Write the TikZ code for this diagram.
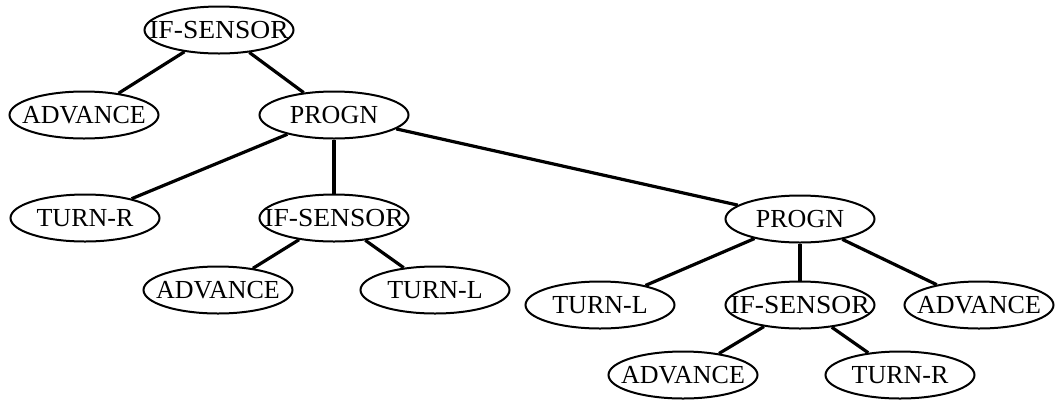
\documentclass[tikz,border=0pt]{standalone}
\usepackage{fontspec}
\usepackage{graphicx}
\setmainfont{Liberation Serif}
\usetikzlibrary{shapes.geometric}
\newcommand{\tlab}[1]{\makebox[0pt][c]{#1}}
\newcommand{\tlabw}[1]{\makebox[0pt][c]{\scalebox{1.06}[1]{#1}}}
\begin{document}
\begin{tikzpicture}[x=1pt,y=-1pt,
  tnode/.style={ellipse,draw=black,line width=2pt,minimum width=149pt,minimum height=47pt,inner sep=0pt,font=\fontsize{26}{28}\selectfont},
  tedge/.style={line width=3.2pt}]
\useasboundingbox (0,0) rectangle (1055,400);
\node[tnode] (t1) at (219,30) {\tlabw{IF-SENSOR}};
\node[tnode] (a1) at (84,115) {\tlab{ADVANCE}};
\node[tnode] (p1) at (334,115) {\tlab{PROGN}};
\node[tnode] (tr1) at (85,218) {\tlab{TURN-R}};
\node[tnode] (is2) at (334,218) {\tlabw{IF-SENSOR}};
\node[tnode] (p2) at (800,219) {\tlab{PROGN}};
\node[tnode] (a2) at (218,290) {\tlab{ADVANCE}};
\node[tnode] (tl1) at (435,290) {\tlab{TURN-L}};
\node[tnode] (tl2) at (600,305) {\tlab{TURN-L}};
\node[tnode] (is3) at (800,305) {\tlabw{IF-SENSOR}};
\node[tnode] (a3) at (979,305) {\tlab{ADVANCE}};
\node[tnode] (a4) at (683,375) {\tlab{ADVANCE}};
\node[tnode] (tr2) at (900,375) {\tlab{TURN-R}};
\draw[tedge] (t1) -- (a1);
\draw[tedge] (t1) -- (p1);
\draw[tedge] (p1) -- (tr1);
\draw[tedge] (p1) -- (is2);
\draw[tedge] (p1) -- (p2);
\draw[tedge] (is2) -- (a2);
\draw[tedge] (is2) -- (tl1);
\draw[tedge] (p2) -- (tl2);
\draw[tedge] (p2) -- (is3);
\draw[tedge] (p2) -- (a3);
\draw[tedge] (is3) -- (a4);
\draw[tedge] (is3) -- (tr2);
\end{tikzpicture}
\end{document}
